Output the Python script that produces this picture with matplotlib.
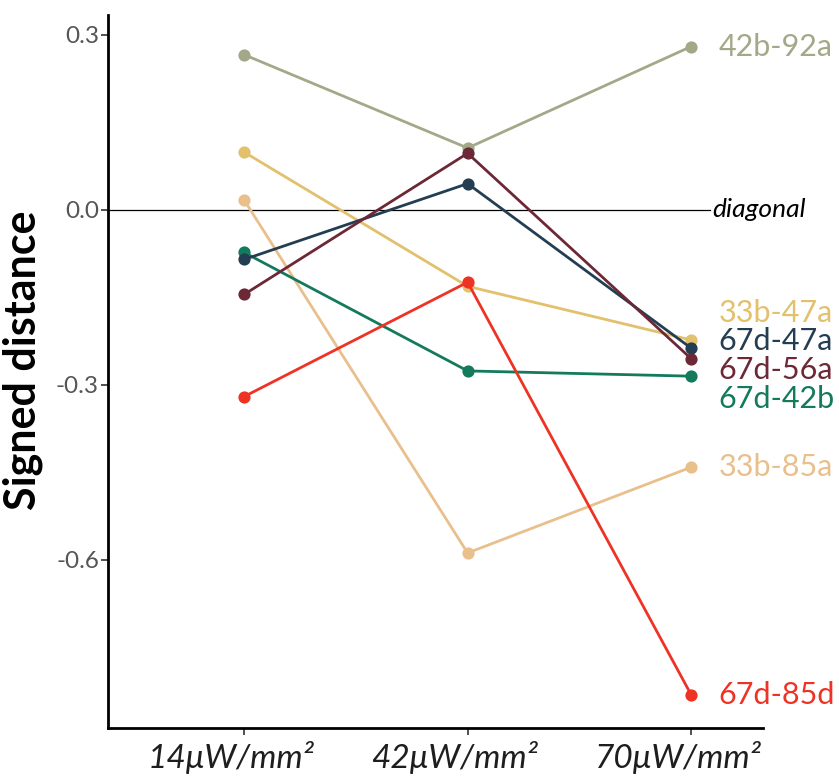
import matplotlib
matplotlib.use("Agg")
import matplotlib.pyplot as plt
import matplotlib.transforms as mtransforms
import numpy as np

plt.rcParams['font.family'] = ['Lato', 'DejaVu Sans']

# ---- data ----
intensities = [14, 42, 70]
tick_labels = ["14μW/mm²", "42μW/mm²", "70μW/mm²"]
series_names = ["33b-47a", "33b-85a", "42b-92a", "67d-42b", "67d-47a", "67d-56a", "67d-85d"]
v_33b_47a = [0.099, -0.131, -0.223]
v_33b_85a = [0.017, -0.588, -0.441]
v_42b_92a = [0.266, 0.106, 0.280]
v_67d_42b = [-0.073, -0.276, -0.285]
v_67d_47a = [-0.085, 0.045, -0.237]
v_67d_56a = [-0.145, 0.097, -0.255]
v_67d_85d = [-0.320, -0.124, -0.831]
series_values = [v_33b_47a, v_33b_85a, v_42b_92a, v_67d_42b, v_67d_47a, v_67d_56a, v_67d_85d]
colors = ["#e2c06c", "#e9c08c", "#a3a988", "#137a5c", "#233e52", "#6c2836", "#ee3325"]

fig = plt.figure(figsize=(8.39, 7.78), dpi=100)
ax = fig.add_axes([108/839, 50/778, (763-108)/839, (728-15)/778])
ax.set_xlim(-3.05, 79.0)
ax.set_ylim(-0.888, 0.334)

# diagonal reference line
ax.plot([-3.05, 72.4], [0, 0], color="black", lw=0.9, zorder=1, clip_on=False)
ax.text(72.7, 0, "diagonal", fontstyle="italic", fontsize=19, va="center", ha="left",
        color="black", clip_on=False)

for name, vals, c in zip(series_names, series_values, colors):
    ax.plot(intensities, vals, color=c, lw=2.0, marker="o", markersize=8.8,
            markeredgewidth=0, zorder=3)

# repel end labels vertically
ppu = 583.3  # pixels per unit (approx) used for spacing
min_gap = 28.5 / ppu
ends = [v[-1] for v in series_values]
pos = {i: ends[i] for i in range(len(ends))}
for _ in range(200):
    moved = False
    seq = sorted(pos.keys(), key=lambda k: -pos[k])
    for a, b in zip(seq[:-1], seq[1:]):
        gap = pos[a] - pos[b]
        if gap < min_gap - 1e-9:
            d = (min_gap - gap) / 2
            pos[a] += d
            pos[b] -= d
            moved = True
    if not moved:
        break

for i, (name, c) in enumerate(zip(series_names, colors)):
    ax.text(73.4, pos[i], name, color=c, fontsize=22, va="center", ha="left",
            clip_on=False)

ax.tick_params(axis="both", direction="out", length=5, width=1.2, color="#333333")
ax.tick_params(axis="x", pad=4)
ax.tick_params(axis="y", pad=1.5)

ax.set_yticks([0.3, 0.0, -0.3, -0.6])
ax.set_yticklabels(["0.3", "0.0", "-0.3", "-0.6"])
ax.set_xticks(intensities)
ax.set_xticklabels(tick_labels, fontstyle="italic", fontsize=24, color="#1e1e1e")
shift = mtransforms.ScaledTranslation(-13/100, 0, fig.dpi_scale_trans)
for tk in ax.xaxis.get_major_ticks():
    tk.label1.set_transform(tk.label1.get_transform() + shift)
for t in ax.get_yticklabels():
    t.set_fontsize(17.5)
    t.set_color("#555555")

ax.set_ylabel("Signed distance", fontsize=31, fontweight="bold")
ax.yaxis.set_label_coords(-0.099, 0.516)

for s in ["top", "right"]:
    ax.spines[s].set_visible(False)
for s in ["left", "bottom"]:
    ax.spines[s].set_linewidth(2.0)
    ax.spines[s].set_color("black")

fig.savefig("out.png", dpi=100)
